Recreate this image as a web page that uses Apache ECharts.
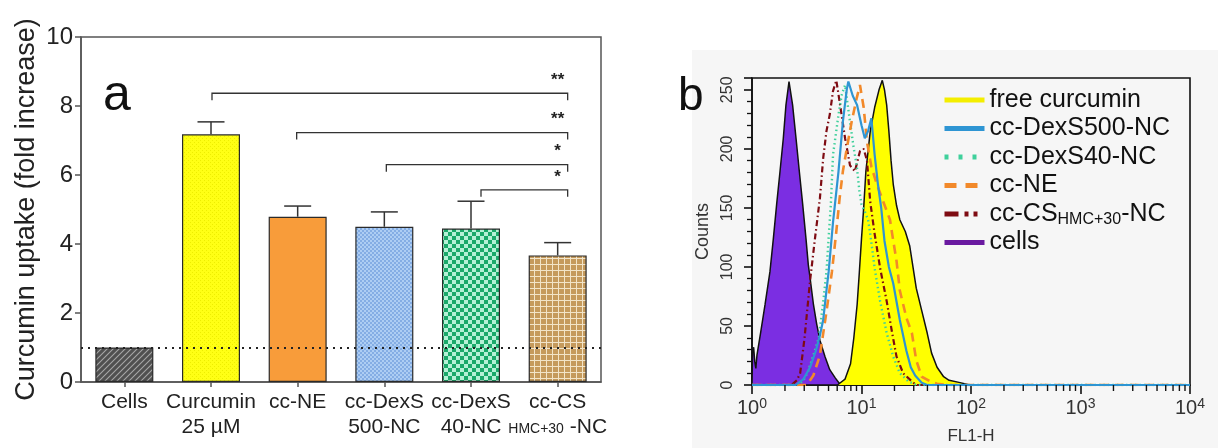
<!DOCTYPE html>
<html>
<head>
<meta charset="utf-8">
<script src="https://cdn.jsdelivr.net/npm/echarts@6/dist/echarts.min.js"></script>
<style>
  html, body { margin: 0; padding: 0; background: #ffffff; }
  #chart { width: 1218px; height: 448px; }
</style>
</head>
<body>
<div id="chart"></div>
<script>
// ---------- Panel a: curcumin uptake (fold increase) ----------
const groups = ['Cells', 'Curcumin\n25 µM', 'cc-NE', 'cc-DexS\n500-NC', 'cc-DexS\n40-NC', 'cc-CS\n{s|HMC+30} -NC'];
const uptake = [1.00, 7.18, 4.79, 4.50, 4.45, 3.67];
const uptakeErr = [0, 0.36, 0.31, 0.43, 0.79, 0.37];
const uptakeTicks = [0, 2, 4, 6, 8, 10];
const cellsLevel = 1;

// significance brackets: from group, to group, height, mark
const bracketFrom = [1, 2, 3, 4];
const bracketTo = [5, 5, 5, 5];
const bracketLevel = [8.37, 7.23, 6.30, 5.57];
const bracketMark = ['**', '**', '*', '*'];

// ---------- Panel b: flow cytometry histograms, [log10(FL1-H), counts] ----------
const cellsHist = [[0, 0], [0.005, 28], [0.015, 32], [0.025, 20], [0.035, 14], [0.045, 25], [0.08, 45], [0.119, 68], [0.164, 96], [0.195, 124], [0.225, 153], [0.256, 181], [0.286, 209], [0.31, 237], [0.338, 257], [0.371, 237], [0.402, 209], [0.432, 181], [0.463, 153], [0.493, 124], [0.514, 102], [0.53, 91], [0.56, 69], [0.59, 52], [0.62, 38], [0.667, 24], [0.71, 13], [0.76, 6], [0.80, 1], [0.83, 0], [4, 0]];
const curcuminHist = [[0, 0], [0.78, 0], [0.85, 5], [0.90, 18], [0.93, 40], [0.96, 68], [0.98, 95], [1.00, 124], [1.02, 150], [1.04, 181], [1.08, 215], [1.12, 235], [1.16, 250], [1.19, 258], [1.21, 250], [1.23, 237], [1.25, 215], [1.27, 190], [1.29, 170], [1.32, 152], [1.35, 140], [1.40, 130], [1.44, 118], [1.47, 100], [1.50, 82], [1.55, 63], [1.60, 44], [1.64, 27], [1.69, 15], [1.75, 7], [1.80, 4], [1.90, 2], [1.99, 0], [4, 0]];
const dexs500Hist = [[0, 0], [0.40, 0], [0.47, 5], [0.53, 15], [0.58, 28], [0.62, 42], [0.65, 55], [0.68, 80], [0.70, 96], [0.74, 138], [0.79, 181], [0.83, 223], [0.865, 250], [0.88, 257], [0.92, 245], [0.96, 237], [1.00, 220], [1.03, 209], [1.06, 215], [1.09, 226], [1.12, 195], [1.15, 170], [1.18, 150], [1.21, 122], [1.25, 100], [1.29, 86], [1.35, 55], [1.41, 29], [1.45, 15], [1.49, 8], [1.55, 2], [1.60, 0], [4, 0]];
const dexs40Hist = [[0, 0], [0.42, 0], [0.47, 4], [0.51, 11], [0.56, 25], [0.61, 40], [0.65, 70], [0.68, 96], [0.70, 125], [0.72, 153], [0.74, 195], [0.79, 229], [0.82, 246], [0.85, 254], [0.87, 240], [0.895, 223], [0.93, 200], [0.956, 186], [0.98, 165], [1.00, 153], [1.03, 147], [1.06, 140], [1.08, 128], [1.12, 99], [1.17, 71], [1.23, 44], [1.29, 24], [1.35, 10], [1.43, 3], [1.50, 0], [4, 0]];
const neHist = [[0, 0], [0.50, 0], [0.56, 8], [0.62, 25], [0.68, 62], [0.73, 96], [0.77, 130], [0.80, 158], [0.83, 181], [0.865, 200], [0.91, 223], [0.956, 243], [0.986, 254], [1.02, 235], [1.05, 206], [1.09, 185], [1.14, 170], [1.20, 155], [1.26, 140], [1.28, 128], [1.32, 105], [1.35, 80], [1.41, 57], [1.46, 44], [1.50, 21], [1.55, 7], [1.63, 3], [1.69, 1], [1.80, 0], [4, 0]];
const csHist = [[0, 0], [0.36, 0], [0.41, 4], [0.44, 10], [0.48, 40], [0.53, 88], [0.575, 124], [0.62, 158], [0.65, 192], [0.68, 215], [0.71, 229], [0.74, 249], [0.77, 258], [0.80, 240], [0.85, 209], [0.895, 186], [0.94, 181], [0.986, 198], [1.02, 200], [1.05, 190], [1.08, 155], [1.12, 128], [1.17, 99], [1.23, 71], [1.28, 44], [1.32, 24], [1.38, 10], [1.46, 3], [1.50, 0], [4, 0]];
const decades = [0, 1, 2, 3, 4];
const countTicks = [0, 50, 100, 150, 200, 250];

const FONT = "'Liberation Sans', Arial, Helvetica, sans-serif";

// small repeating fills for the bars
function pattern(w, h, draw) {
  const c = document.createElement('canvas');
  c.width = w; c.height = h;
  draw(c.getContext('2d'), w, h);
  return { image: c, repeat: 'repeat' };
}
const fills = [
  pattern(6, 6, (g, w, h) => {
    g.fillStyle = '#505050'; g.fillRect(0, 0, w, h);
    g.strokeStyle = '#a6a6a6'; g.lineWidth = 1.1;
    g.beginPath();
    g.moveTo(-1, h + 1); g.lineTo(w + 1, -1);
    g.moveTo(-1, 1); g.lineTo(1, -1);
    g.moveTo(w - 1, h + 1); g.lineTo(w + 1, h - 1);
    g.stroke();
  }),
  pattern(4, 4, (g, w, h) => {
    g.fillStyle = '#ffff14'; g.fillRect(0, 0, w, h);
    g.fillStyle = '#eded00'; g.fillRect(0, 0, 1, 1); g.fillRect(2, 2, 1, 1);
  }),
  '#f89c3a',
  pattern(4, 4, (g, w, h) => {
    g.fillStyle = '#adcdf3'; g.fillRect(0, 0, w, h);
    g.fillStyle = '#84ade4'; g.fillRect(0, 0, 2, 2); g.fillRect(2, 2, 2, 2);
  }),
  pattern(8, 8, (g, w, h) => {
    g.fillStyle = '#b5f1d6'; g.fillRect(0, 0, w, h);
    g.fillStyle = '#1aa96a'; g.fillRect(0, 0, 4, 4); g.fillRect(4, 4, 4, 4);
  }),
  pattern(6, 6, (g, w, h) => {
    g.fillStyle = '#c59a5c'; g.fillRect(0, 0, w, h);
    g.fillStyle = '#f2e4c8'; g.fillRect(0, 0, w, 1); g.fillRect(0, 0, 1, h);
  })
];

const chart = echarts.init(document.getElementById('chart'), null, { renderer: 'canvas' });

const minorDecadeTicks = [];
for (let d = 0; d < 4; d++) {
  for (let k = 2; k <= 9; k++) minorDecadeTicks.push([d + Math.log10(k)]);
}

function histSeries(name, data, line, area, z) {
  const s = {
    name, type: 'line', xAxisIndex: 1, yAxisIndex: 1, data,
    symbol: 'none', silent: true, z,
    lineStyle: line,
    itemStyle: { color: line.color }
  };
  if (area) {
    s.areaStyle = { color: area, opacity: 1 };
    s.itemStyle = { color: area };
  }
  return s;
}

const option = {
  animation: false,
  backgroundColor: '#ffffff',
  textStyle: { fontFamily: FONT },
  grid: [
    { left: 81, top: 37, width: 520, height: 345, show: true, borderColor: '#555', borderWidth: 1.5, backgroundColor: '#ffffff', outerBoundsMode: 'none' },
    { left: 752, top: 78, width: 438, height: 307, show: true, borderColor: '#111', borderWidth: 1.6, backgroundColor: '#f6f6f6', outerBoundsMode: 'none' }
  ],
  xAxis: [
    {
      type: 'category', gridIndex: 0, data: groups,
      axisLine: { lineStyle: { color: '#555', width: 1.5 } },
      axisTick: { show: true, alignWithLabel: true, length: 5, lineStyle: { color: '#555', width: 1.5 } },
      axisLabel: {
        interval: 0, margin: 8, fontSize: 21, lineHeight: 25, color: '#222', fontFamily: FONT,
        rich: { s: { fontSize: 14, lineHeight: 14, verticalAlign: 'bottom', padding: [0, 0, 4, 0], fontFamily: FONT, color: '#222' } }
      },
      splitLine: { show: false }
    },
    {
      type: 'value', gridIndex: 1, min: 0, max: 4, interval: 1,
      name: 'FL1-H', nameLocation: 'middle', nameGap: 43,
      nameTextStyle: { fontSize: 17, color: '#333', fontFamily: FONT },
      axisLine: { lineStyle: { color: '#111', width: 1.6 } },
      axisTick: { show: true, length: 9, lineStyle: { color: '#111', width: 1.6 } },
      axisLabel: {
        margin: 12, color: '#333', fontFamily: FONT,
        formatter: v => decades.includes(v) ? '{b|10}{p|' + v + '}' : '',
        rich: {
          b: { fontSize: 20, fontFamily: FONT, color: '#333', lineHeight: 22 },
          p: { fontSize: 14, fontFamily: FONT, color: '#333', verticalAlign: 'top', lineHeight: 14 }
        }
      },
      splitLine: { show: false }
    }
  ],
  yAxis: [
    {
      type: 'value', gridIndex: 0, min: 0, max: 10, interval: 2,
      name: 'Curcumin uptake (fold increase)', nameLocation: 'middle', nameGap: 41,
      nameTextStyle: { fontSize: 27, color: '#222', fontFamily: FONT },
      axisLine: { show: true, lineStyle: { color: '#555', width: 1.5 } },
      axisTick: { show: true, length: 6, lineStyle: { color: '#555', width: 1.5 } },
      axisLabel: { margin: 8, fontSize: 24, color: '#222', fontFamily: FONT,
        formatter: v => uptakeTicks.includes(v) ? String(v) : '' },
      splitLine: { show: false }
    },
    {
      type: 'value', gridIndex: 1, min: 0, max: 260, interval: 50,
      name: 'Counts', nameLocation: 'middle', nameGap: 40,
      nameTextStyle: { fontSize: 18, color: '#333', fontFamily: FONT },
      axisLine: { show: true, lineStyle: { color: '#111', width: 1.6 } },
      axisTick: { show: true, length: 8, lineStyle: { color: '#111', width: 1.6 } },
      minorTick: { show: true, splitNumber: 5, length: 5, lineStyle: { color: '#111', width: 1.3 } },
      axisLabel: { rotate: 90, margin: 16, fontSize: 16, color: '#333', fontFamily: FONT,
        formatter: v => countTicks.includes(v) ? String(v) : '' },
      splitLine: { show: false },
      minorSplitLine: { show: false }
    }
  ],
  legend: {
    orient: 'vertical', left: 942, top: 86, padding: 0,
    itemWidth: 40, itemHeight: 14, itemGap: 0.5,
    selectedMode: false,
    itemStyle: { opacity: 0 },
    textStyle: {
      fontSize: 25, color: '#111', fontFamily: FONT, lineHeight: 28,
      rich: { sub: { fontSize: 16, fontFamily: FONT, color: '#111', lineHeight: 16, verticalAlign: 'bottom' } }
    },
    formatter: n => n === 'cc-CSHMC+30-NC' ? 'cc-CS{sub|HMC+30}-NC' : n,
    data: [
      { name: 'free curcumin', lineStyle: { color: '#f4ee00', width: 5 } },
      { name: 'cc-DexS500-NC', lineStyle: { width: 5 } },
      { name: 'cc-DexS40-NC', lineStyle: { width: 5, type: [4, 10] } },
      { name: 'cc-NE', lineStyle: { width: 5, type: [12, 9] } },
      { name: 'cc-CSHMC+30-NC', lineStyle: { width: 5, type: [14, 6, 4, 5, 4, 7] } },
      { name: 'cells', lineStyle: { color: '#6a1aa0', width: 5 } }
    ]
  },
  graphic: [
    { type: 'rect', z: -10, silent: true, shape: { x: 692, y: 50, width: 526, height: 398 }, style: { fill: '#f6f6f6' } },
    { type: 'text', z: 10, silent: true, x: 103, y: 96, style: { text: 'a', font: '50px ' + FONT, fill: '#111', verticalAlign: 'middle' } },
    { type: 'text', z: 10, silent: true, x: 678, y: 97, style: { text: 'b', font: '46px ' + FONT, fill: '#111', verticalAlign: 'middle' } }
  ],
  series: [
    // reference line at the untreated cells level
    {
      type: 'line', xAxisIndex: 0, yAxisIndex: 0, data: [], silent: true, z: 1,
      markLine: {
        silent: true, symbol: 'none', label: { show: false },
        lineStyle: { color: '#222', type: [2, 5], width: 1.8 },
        data: [{ yAxis: cellsLevel }]
      }
    },
    {
      type: 'bar', xAxisIndex: 0, yAxisIndex: 0, barWidth: 58, z: 2, silent: true,
      data: uptake.map((v, i) => ({
        value: v,
        itemStyle: { color: fills[i], borderColor: '#2a2a2a', borderWidth: 1.2 }
      }))
    },
    {
      type: 'custom', xAxisIndex: 0, yAxisIndex: 0, z: 3, silent: true, clip: false,
      encode: { x: 0, y: 2 },
      data: uptake.map((v, i) => [i, v, v + uptakeErr[i]]).filter(d => d[2] > d[1]),
      renderItem: (params, api) => {
        const i = api.value(0);
        const lo = api.coord([i, api.value(1)]);
        const hi = api.coord([i, api.value(2)]);
        const st = { stroke: '#333', lineWidth: 1.5 };
        return {
          type: 'group', children: [
            { type: 'line', shape: { x1: lo[0], y1: lo[1], x2: hi[0], y2: hi[1] }, style: st },
            { type: 'line', shape: { x1: hi[0] - 13.5, y1: hi[1], x2: hi[0] + 13.5, y2: hi[1] }, style: st }
          ]
        };
      }
    },
    {
      type: 'custom', xAxisIndex: 0, yAxisIndex: 0, z: 3, silent: true, clip: false,
      encode: { x: 0, y: 2 },
      data: bracketFrom.map((f, k) => [f, bracketTo[k], bracketLevel[k]]),
      renderItem: (params, api) => {
        const k = params.dataIndex;
        const startShift = [1, -1, 2, 10][k];
        const a = api.coord([api.value(0), api.value(2)]);
        const b = api.coord([api.value(1), api.value(2)]);
        const x1 = a[0] + startShift, x2 = b[0] + 10, y = a[1];
        return {
          type: 'group', children: [
            { type: 'polyline', shape: { points: [[x1, y + 7], [x1, y], [x2, y], [x2, y + 7]] },
              style: { stroke: '#333', lineWidth: 1.3, fill: 'none' } },
            { type: 'text', x: b[0], y: y - 13,
              style: { text: bracketMark[k], font: 'bold 17px ' + FONT, fill: '#222', align: 'center', verticalAlign: 'middle' } }
          ]
        };
      }
    },
    // flow cytometry histograms
    histSeries('cells', cellsHist, { color: '#111', width: 1.5 }, '#7b2ee2', 2),
    histSeries('free curcumin', curcuminHist, { color: '#111', width: 1.5 }, '#ffff00', 3),
    histSeries('cc-CSHMC+30-NC', csHist, { color: '#7e0b12', width: 2.2, type: [6, 3, 1.5, 3] }, null, 5),
    histSeries('cc-DexS40-NC', dexs40Hist, { color: '#3fd09b', width: 2.4, type: [1.5, 3] }, null, 6),
    histSeries('cc-NE', neHist, { color: '#f2892a', width: 2.6, type: [9, 6] }, null, 7),
    histSeries('cc-DexS500-NC', dexs500Hist, { color: '#2e95d3', width: 2.2 }, null, 8),
    // logarithmic minor ticks under the FL1-H axis
    {
      type: 'custom', xAxisIndex: 1, yAxisIndex: 1, z: 9, silent: true, clip: false,
      data: minorDecadeTicks,
      renderItem: (params, api) => {
        const p = api.coord([api.value(0), 0]);
        return { type: 'line', shape: { x1: p[0], y1: p[1], x2: p[0], y2: p[1] + 6 },
          style: { stroke: '#111', lineWidth: 1.4 } };
      }
    }
  ]
};

chart.setOption(option);
</script>
</body>
</html>
